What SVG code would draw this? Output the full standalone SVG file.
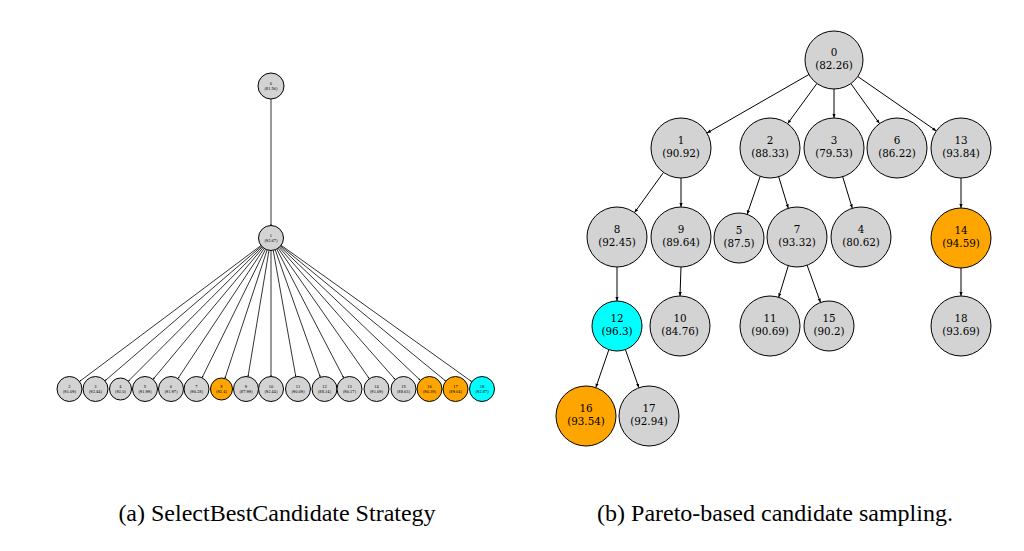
<svg xmlns="http://www.w3.org/2000/svg" width="1024" height="551" viewBox="0 0 1024 551">
<defs>
<marker id="ah" viewBox="0 0 10 10" refX="10" refY="5" markerWidth="4" markerHeight="4" orient="auto" markerUnits="userSpaceOnUse"><path d="M0,1 L10,5 L0,9 z" fill="#000"/></marker>
<marker id="ahs" viewBox="0 0 10 10" refX="10" refY="5" markerWidth="2" markerHeight="2" orient="auto" markerUnits="userSpaceOnUse"><path d="M0,1 L10,5 L0,9 z" fill="#000"/></marker>
</defs>
<style>
.n{fill:#d3d3d3;stroke:#000;stroke-width:1}
.o{fill:#ffa500;stroke:#000;stroke-width:1}
.c{fill:#00ffff;stroke:#000;stroke-width:1}
.e{stroke:#000;stroke-width:1;fill:none;marker-end:url(#ah)}
.es{stroke:#000;stroke-width:0.8;fill:none;marker-end:url(#ahs)}
.t{font-family:"DejaVu Serif Condensed","DejaVu Serif",serif;font-stretch:condensed;font-size:11.5px;text-anchor:middle;fill:#000}
.ts{font-family:"DejaVu Serif Condensed","DejaVu Serif",serif;font-stretch:condensed;font-size:4px;text-anchor:middle;fill:#000}
.cap{font-family:"Liberation Serif","Times New Roman",serif;font-size:24px;text-anchor:middle;fill:#000}
</style>
<rect width="1024" height="551" fill="#fff"/>

<g id="edges-left">
<line class="es" x1="271" y1="99" x2="271" y2="225.5"/>
<line class="es" x1="261.0" y1="245.5" x2="79.5" y2="381.5"/>
<line class="es" x1="261.5" y1="246.2" x2="105.0" y2="380.8"/>
<line class="es" x1="262.2" y1="246.9" x2="128.3" y2="381.2"/>
<line class="es" x1="263.0" y1="247.6" x2="153.0" y2="379.4"/>
<line class="es" x1="264.1" y1="248.4" x2="177.9" y2="378.6"/>
<line class="es" x1="265.5" y1="249.2" x2="202.0" y2="377.8"/>
<line class="es" x1="267.1" y1="249.9" x2="224.9" y2="378.5"/>
<line class="es" x1="269.0" y1="250.3" x2="248.0" y2="376.7"/>
<line class="es" x1="271" y1="250.5" x2="271" y2="376.5"/>
<line class="es" x1="273.2" y1="250.3" x2="295.8" y2="376.7"/>
<line class="es" x1="275.2" y1="249.8" x2="320.3" y2="377.2"/>
<line class="es" x1="276.8" y1="249.1" x2="343.7" y2="377.9"/>
<line class="es" x1="278.2" y1="248.3" x2="369.3" y2="378.7"/>
<line class="es" x1="279.2" y1="247.4" x2="395.3" y2="379.6"/>
<line class="es" x1="280.0" y1="246.6" x2="420.4" y2="380.4"/>
<line class="es" x1="280.7" y1="245.9" x2="445.8" y2="381.1"/>
<line class="es" x1="281.2" y1="245.3" x2="471.8" y2="381.7"/>
</g>

<g id="L0"><circle class="n" cx="271" cy="86" r="13"/><text class="ts" x="271" y="84.5">0</text><text class="ts" x="271" y="89.5">(81.56)</text></g>
<g id="L1"><circle class="n" cx="271" cy="238" r="12.5"/><text class="ts" x="271" y="236.5">1</text><text class="ts" x="271" y="241.5">(92.67)</text></g>
<g id="L2"><circle class="n" cx="69.5" cy="389" r="12.5"/><text class="ts" x="69.5" y="387.5">2</text><text class="ts" x="69.5" y="392.5">(91.09)</text></g>
<g id="L3"><circle class="n" cx="95.5" cy="389" r="12.5"/><text class="ts" x="95.5" y="387.5">3</text><text class="ts" x="95.5" y="392.5">(92.44)</text></g>
<g id="L4"><circle class="n" cx="120.5" cy="389" r="11"/><text class="ts" x="120.5" y="387.5">4</text><text class="ts" x="120.5" y="392.5">(92.0)</text></g>
<g id="L5"><circle class="n" cx="145" cy="389" r="12.5"/><text class="ts" x="145" y="387.5">5</text><text class="ts" x="145" y="392.5">(91.99)</text></g>
<g id="L6"><circle class="n" cx="171" cy="389" r="12.5"/><text class="ts" x="171" y="387.5">6</text><text class="ts" x="171" y="392.5">(91.97)</text></g>
<g id="L7"><circle class="n" cx="196.5" cy="389" r="12.5"/><text class="ts" x="196.5" y="387.5">7</text><text class="ts" x="196.5" y="392.5">(90.28)</text></g>
<g id="L8"><circle class="o" cx="221.5" cy="389" r="11"/><text class="ts" x="221.5" y="387.5">8</text><text class="ts" x="221.5" y="392.5">(92.4)</text></g>
<g id="L9"><circle class="n" cx="246" cy="389" r="12.5"/><text class="ts" x="246" y="387.5">9</text><text class="ts" x="246" y="392.5">(87.99)</text></g>
<g id="L10"><circle class="n" cx="271" cy="389" r="12.5"/><text class="ts" x="271" y="387.5">10</text><text class="ts" x="271" y="392.5">(92.44)</text></g>
<g id="L11"><circle class="n" cx="298" cy="389" r="12.5"/><text class="ts" x="298" y="387.5">11</text><text class="ts" x="298" y="392.5">(90.09)</text></g>
<g id="L12"><circle class="n" cx="324.5" cy="389" r="12.5"/><text class="ts" x="324.5" y="387.5">12</text><text class="ts" x="324.5" y="392.5">(88.14)</text></g>
<g id="L13"><circle class="n" cx="349.5" cy="389" r="12.5"/><text class="ts" x="349.5" y="387.5">13</text><text class="ts" x="349.5" y="392.5">(90.17)</text></g>
<g id="L14"><circle class="n" cx="376.5" cy="389" r="12.5"/><text class="ts" x="376.5" y="387.5">14</text><text class="ts" x="376.5" y="392.5">(91.09)</text></g>
<g id="L15"><circle class="n" cx="403.5" cy="389" r="12.5"/><text class="ts" x="403.5" y="387.5">15</text><text class="ts" x="403.5" y="392.5">(88.63)</text></g>
<g id="L16"><circle class="o" cx="429.5" cy="389" r="12.5"/><text class="ts" x="429.5" y="387.5">16</text><text class="ts" x="429.5" y="392.5">(90.39)</text></g>
<g id="L17"><circle class="o" cx="455.5" cy="389" r="12.5"/><text class="ts" x="455.5" y="387.5">17</text><text class="ts" x="455.5" y="392.5">(89.04)</text></g>
<g id="L18"><circle class="c" cx="482" cy="389" r="12.5"/><text class="ts" x="482" y="387.5">18</text><text class="ts" x="482" y="392.5">(92.87)</text></g>

<g id="edges-right">
<line class="e" x1="808.9" y1="74.5" x2="707.0" y2="133.0"/>
<line class="e" x1="816.9" y1="83.5" x2="787.6" y2="123.7"/>
<line class="e" x1="834" y1="89" x2="834" y2="118"/>
<line class="e" x1="850.9" y1="83.6" x2="879.5" y2="123.6"/>
<line class="e" x1="857.8" y1="76.5" x2="936.3" y2="130.9"/>
<line class="e" x1="663.5" y1="172.4" x2="634.5" y2="212.6"/>
<line class="e" x1="681" y1="178" x2="681" y2="207"/>
<line class="e" x1="760.2" y1="176.4" x2="747.1" y2="214.4"/>
<line class="e" x1="778.7" y1="176.7" x2="788.3" y2="208.3"/>
<line class="e" x1="842.7" y1="176.7" x2="852.3" y2="208.3"/>
<line class="e" x1="961" y1="178" x2="961" y2="208"/>
<line class="e" x1="617" y1="267" x2="617" y2="301"/>
<line class="e" x1="681" y1="267" x2="680" y2="296"/>
<line class="e" x1="788.3" y1="265.7" x2="778.7" y2="297.3"/>
<line class="e" x1="807.1" y1="265.2" x2="820.5" y2="302.5"/>
<line class="e" x1="961" y1="268" x2="961" y2="296"/>
<line class="e" x1="608.9" y1="349.6" x2="595.8" y2="387.6"/>
<line class="e" x1="625.4" y1="349.6" x2="638.9" y2="387.7"/>
</g>

<g id="R0"><circle class="n" cx="834" cy="60" r="29"/><text class="t" x="834" y="56">0</text><text class="t" x="834" y="68.5">(82.26)</text></g>
<g id="R1"><circle class="n" cx="681" cy="148" r="30"/><text class="t" x="681" y="144">1</text><text class="t" x="681" y="156.5">(90.92)</text></g>
<g id="R2"><circle class="n" cx="770" cy="148" r="30"/><text class="t" x="770" y="144">2</text><text class="t" x="770" y="156.5">(88.33)</text></g>
<g id="R3"><circle class="n" cx="834" cy="148" r="30"/><text class="t" x="834" y="144">3</text><text class="t" x="834" y="156.5">(79.53)</text></g>
<g id="R6"><circle class="n" cx="897" cy="148" r="30"/><text class="t" x="897" y="144">6</text><text class="t" x="897" y="156.5">(86.22)</text></g>
<g id="R13"><circle class="n" cx="961" cy="148" r="30"/><text class="t" x="961" y="144">13</text><text class="t" x="961" y="156.5">(93.84)</text></g>
<g id="R8"><circle class="n" cx="617" cy="237" r="30"/><text class="t" x="617" y="233">8</text><text class="t" x="617" y="245.5">(92.45)</text></g>
<g id="R9"><circle class="n" cx="681" cy="237" r="30"/><text class="t" x="681" y="233">9</text><text class="t" x="681" y="245.5">(89.64)</text></g>
<g id="R5"><circle class="n" cx="739" cy="238" r="25"/><text class="t" x="739" y="234">5</text><text class="t" x="739" y="246.5">(87.5)</text></g>
<g id="R7"><circle class="n" cx="797" cy="237" r="30"/><text class="t" x="797" y="233">7</text><text class="t" x="797" y="245.5">(93.32)</text></g>
<g id="R4"><circle class="n" cx="861" cy="237" r="30"/><text class="t" x="861" y="233">4</text><text class="t" x="861" y="245.5">(80.62)</text></g>
<g id="R14"><circle class="o" cx="961" cy="238" r="30"/><text class="t" x="961" y="234">14</text><text class="t" x="961" y="246.5">(94.59)</text></g>
<g id="R12"><circle class="c" cx="617" cy="326" r="25"/><text class="t" x="617" y="322">12</text><text class="t" x="617" y="334.5">(96.3)</text></g>
<g id="R10"><circle class="n" cx="680" cy="326" r="30"/><text class="t" x="680" y="322">10</text><text class="t" x="680" y="334.5">(84.76)</text></g>
<g id="R11"><circle class="n" cx="770" cy="326" r="30"/><text class="t" x="770" y="322">11</text><text class="t" x="770" y="334.5">(90.69)</text></g>
<g id="R15"><circle class="n" cx="829" cy="326" r="25"/><text class="t" x="829" y="322">15</text><text class="t" x="829" y="334.5">(90.2)</text></g>
<g id="R18"><circle class="n" cx="961" cy="326" r="30"/><text class="t" x="961" y="322">18</text><text class="t" x="961" y="334.5">(93.69)</text></g>
<g id="R16"><circle class="o" cx="586" cy="416" r="30"/><text class="t" x="586" y="412">16</text><text class="t" x="586" y="424.5">(93.54)</text></g>
<g id="R17"><circle class="n" cx="649" cy="416" r="30"/><text class="t" x="649" y="412">17</text><text class="t" x="649" y="424.5">(92.94)</text></g>

<text class="cap" x="277" y="521">(a) SelectBestCandidate Strategy</text>
<text class="cap" x="775" y="521">(b) Pareto-based candidate sampling.</text>
</svg>
